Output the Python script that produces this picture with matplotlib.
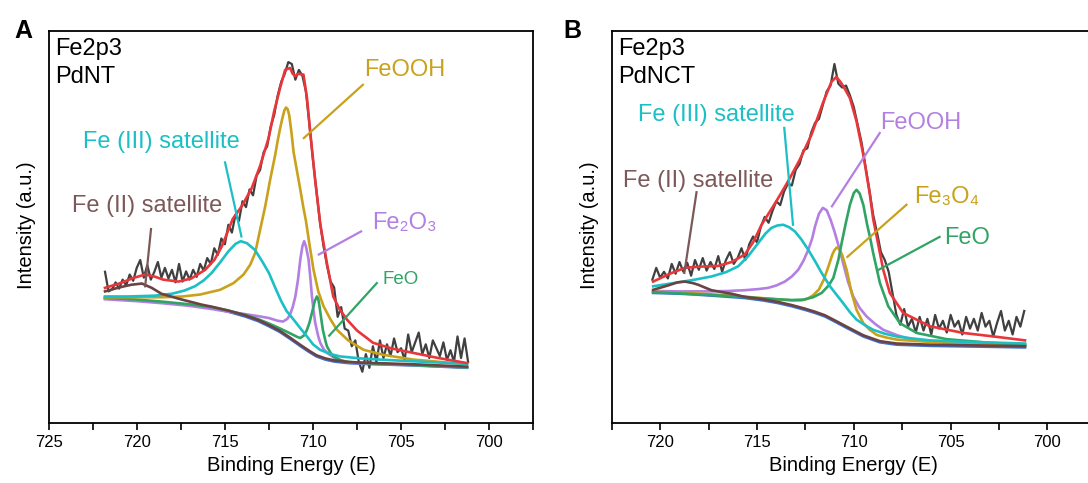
import numpy as np
import matplotlib
matplotlib.use('Agg')
import matplotlib.pyplot as plt
from matplotlib.ticker import MultipleLocator

plt.rcParams['font.family'] = ['Liberation Sans', 'DejaVu Sans']

# ---------------- data, panel A (PdNT) ----------------
a_raw = [38.5, 33.5, 34.0, 35.8, 34.2, 36.5, 35.0, 37.8, 36.2, 39.5,
         41.5, 37.0, 40.2, 36.5, 38.5, 41.0, 37.0, 39.5, 36.8, 39.0,
         35.8, 40.5, 36.0, 38.6, 36.5, 39.0, 37.2, 40.5, 38.8, 42.0,
         40.5, 44.5, 42.8, 47.0, 45.5, 50.5, 48.5, 53.0, 51.5, 56.5,
         55.0, 59.5, 58.0, 63.0, 64.5, 69.0, 70.5, 75.5, 78.5, 83.5,
         87.0, 89.0, 92.0, 91.5, 87.5, 90.0, 88.5, 84.5, 76.0, 67.0,
         59.0, 51.0, 45.0, 40.0, 36.0, 34.5, 27.0, 29.5, 24.0, 23.5,
         19.5, 21.0, 15.5, 13.0, 17.5, 14.0, 19.5, 15.5, 21.0, 16.5,
         20.0, 17.0, 21.5, 18.0, 19.0, 16.0, 22.5, 18.0, 20.5, 23.0,
         17.5, 20.0, 16.5, 21.0, 19.0, 17.0, 20.5, 16.0, 18.5, 15.5,
         22.0, 16.5, 21.5, 15.5]
a_raw_start, a_raw_stop = 721.8, 701.2

a_envelope = [(721.8, 34.4), (721.0, 35.5), (720.2, 36.9), (719.53, 37.8), (719.0, 37.3),
              (718.5, 36.5), (717.63, 36.0), (716.9, 36.8), (716.12, 39.0), (715.6, 41.5),
              (715.17, 45.0), (714.55, 52.0), (714.0, 55.5), (713.47, 59.9), (713.0, 65.5),
              (712.52, 72.6), (712.2, 79.5), (711.86, 85.5), (711.58, 90.0), (711.3, 90.5),
              (711.15, 89.0), (711.0, 88.4), (710.85, 89.0), (710.54, 88.8), (710.34, 82.8),
              (710.16, 74.3), (709.87, 61.6), (709.58, 50.5), (709.21, 40.7), (708.85, 32.2),
              (708.5, 29.0), (708.07, 26.3), (707.5, 23.5), (707.0, 21.8), (706.6, 20.4),
              (705.5, 18.9), (704.3, 17.8), (703.0, 16.6), (702.0, 15.8), (701.26, 15.2)]

a_background = [(721.8, 31.7), (720.0, 31.2), (718.6, 30.7), (717.0, 30.0), (715.75, 29.3),
                (714.8, 28.3), (713.85, 27.1), (713.1, 25.9), (712.5, 24.6), (711.9, 23.2),
                (711.3, 21.4), (710.7, 19.5), (710.2, 18.0), (709.8, 16.9), (709.3, 16.1),
                (708.8, 15.6), (708.0, 15.2), (707.1, 15.0), (704.3, 14.6), (701.26, 14.0)]

a_fe2_sat = [(721.8, 33.5), (721.0, 34.5), (720.3, 35.2), (719.7, 35.5), (719.15, 34.4),
             (718.6, 32.9), (717.6, 31.6), (716.3, 30.1), (715.75, 29.6), (714.8, 28.6),
             (713.85, 27.4), (713.1, 26.2), (712.5, 24.9), (711.9, 23.5), (711.3, 21.7),
             (710.7, 19.8), (710.2, 18.3), (709.8, 17.2), (709.3, 16.4), (708.8, 15.9),
             (708.0, 15.5), (707.1, 15.3), (704.3, 14.9), (701.26, 14.3)]

a_fe3_sat = [(721.8, 32.2), (720.5, 32.2), (719.0, 32.4), (718.0, 32.9), (717.3, 33.7),
             (716.7, 34.8), (716.2, 36.3), (715.75, 38.2), (715.25, 41.0), (714.8, 43.7),
             (714.4, 45.6), (714.1, 46.3), (713.75, 45.8), (713.3, 44.1), (712.9, 41.3),
             (712.5, 38.2), (712.1, 34.0), (711.8, 31.0), (711.5, 28.5), (711.1, 26.3),
             (710.7, 24.0), (710.34, 22.0), (710.0, 20.0), (709.6, 18.6), (709.0, 17.5),
             (708.45, 16.9), (707.3, 16.4), (706.2, 16.1), (704.0, 15.6), (701.26, 15.0)]

a_feooh = [(721.8, 32.0), (718.6, 32.0), (717.4, 32.2), (716.4, 32.7), (715.27, 33.9),
           (714.51, 35.6), (713.94, 37.8), (713.56, 40.3), (713.28, 43.3), (713.0, 49.2),
           (712.71, 55.2), (712.43, 62.0), (712.14, 68.4), (712.0, 72.0), (711.86, 75.2),
           (711.72, 78.0), (711.62, 79.7), (711.53, 80.4), (711.44, 80.0), (711.35, 78.5),
           (711.22, 74.0), (711.1, 69.0), (710.9, 64.0), (710.72, 59.5), (710.55, 55.0),
           (710.4, 51.5), (710.2, 45.5), (709.97, 39.0), (709.7, 33.5), (709.4, 29.7),
           (709.0, 26.3), (708.64, 23.7), (708.0, 21.0), (707.13, 18.6), (706.0, 17.3),
           (704.3, 16.1), (702.5, 15.4), (701.26, 15.0)]

a_fe2o3 = [(721.8, 31.5), (720.0, 31.0), (718.6, 30.5), (717.0, 29.8), (715.75, 29.0),
           (714.8, 28.3), (713.85, 27.7), (713.0, 27.1), (712.5, 26.7), (712.0, 26.0),
           (711.7, 25.8), (711.45, 26.5), (711.3, 27.6), (711.15, 29.5), (711.0, 32.2),
           (710.85, 36.5), (710.72, 41.6), (710.6, 45.0), (710.5, 46.3), (710.4, 45.0),
           (710.25, 41.6), (710.15, 37.0), (710.06, 32.2), (709.95, 28.0), (709.87, 25.4),
           (709.7, 22.0), (709.58, 20.3), (709.4, 18.8), (709.2, 17.8), (708.64, 16.1),
           (708.0, 15.4), (707.1, 15.1), (704.3, 14.7), (701.26, 14.1)]

a_feo = [(721.8, 31.9), (720.0, 31.4), (718.6, 30.9), (717.0, 30.2), (715.75, 29.5),
         (714.8, 28.6), (713.85, 27.5), (713.1, 26.4), (712.5, 25.3), (711.9, 24.1),
         (711.3, 22.8), (710.9, 21.9), (710.72, 21.6), (710.5, 22.3), (710.34, 23.7),
         (710.2, 25.5), (710.06, 28.0), (709.9, 31.0), (709.78, 32.2), (709.7, 31.6),
         (709.63, 29.7), (709.53, 26.5), (709.44, 23.7), (709.3, 21.0), (709.21, 19.5),
         (709.0, 17.8), (708.83, 16.9), (708.4, 15.9), (708.0, 15.5), (707.1, 15.2),
         (704.3, 14.7), (701.26, 14.1)]

# ---------------- data, panel B (PdNCT) ----------------
b_raw = [36.5, 39.5, 37.0, 38.5, 36.8, 40.5, 38.0, 41.0, 38.5, 40.8,
         37.5, 41.5, 39.0, 42.0, 38.8, 41.0, 39.2, 42.5, 38.5, 41.5,
         43.5, 40.5, 42.0, 44.5, 41.5, 45.5, 47.5, 46.0, 50.0, 52.5,
         51.0, 54.0, 56.5, 55.5, 59.0, 61.0, 60.5, 64.5, 66.0, 69.5,
         70.0, 74.0, 76.5, 77.5, 81.0, 84.5, 86.0, 91.5, 86.5, 85.5,
         86.0, 83.5, 80.5, 76.0, 71.5, 65.5, 59.5, 53.0, 48.5, 43.5,
         41.5, 38.5, 33.0, 27.5, 25.0, 29.0, 24.5, 26.5, 23.0, 27.0,
         23.5, 26.5, 22.5, 27.5, 24.0, 26.0, 23.0, 27.5, 24.5, 26.0,
         22.5, 27.0, 24.0, 26.5, 23.5, 28.0, 24.5, 26.0, 22.0, 25.5,
         28.5, 23.5, 26.0, 22.5, 27.0, 24.5, 28.5]
b_raw_start, b_raw_stop = 720.4, 701.2

b_envelope = [(720.36, 36.0), (719.5, 38.0), (718.72, 39.5), (718.0, 39.8), (717.0, 40.0),
              (716.3, 41.0), (715.63, 42.9), (715.2, 46.0), (714.76, 50.5), (714.0, 56.5),
              (713.39, 61.6), (712.8, 67.0), (712.18, 73.5), (711.6, 81.5), (711.15, 87.0),
              (710.9, 88.2), (710.7, 87.0), (710.5, 85.5), (710.2, 82.8), (709.86, 76.9),
              (709.51, 68.4), (709.17, 58.2), (709.0, 52.0), (708.74, 45.5), (708.48, 39.0),
              (708.14, 33.1), (707.45, 28.0), (706.07, 24.6), (704.35, 22.9), (702.62, 21.9),
              (701.16, 21.0)]

b_background = [(720.36, 33.1), (719.0, 32.9), (718.21, 32.7), (717.0, 32.3), (715.63, 31.8),
                (714.7, 31.2), (713.9, 30.5), (713.2, 29.7), (712.53, 28.8), (712.0, 28.0),
                (711.49, 27.1), (710.98, 25.8), (710.37, 24.2), (709.9, 23.0), (709.51, 22.0),
                (709.0, 21.1), (708.65, 20.5), (707.79, 19.9), (706.07, 19.6), (703.5, 19.4),
                (701.16, 19.2)]

b_fe2_sat = [(720.36, 33.9), (719.6, 35.0), (719.1, 35.8), (718.72, 36.0), (718.3, 35.6),
             (718.04, 35.2), (717.7, 34.5), (717.35, 33.8), (716.8, 33.3), (716.31, 32.9),
             (715.63, 32.1), (714.7, 31.5), (713.9, 30.8), (713.2, 30.0), (712.53, 29.1),
             (712.0, 28.3), (711.49, 27.4), (710.98, 26.1), (710.37, 24.5), (709.9, 23.3),
             (709.51, 22.3), (709.0, 21.4), (708.65, 20.8), (707.79, 20.2), (706.07, 19.9),
             (703.5, 19.7), (701.16, 19.5)]

b_fe3_sat = [(720.36, 34.8), (719.07, 35.8), (718.2, 36.5), (717.35, 37.3), (716.6, 38.4),
             (715.97, 39.9), (715.45, 42.5), (714.94, 45.8), (714.55, 48.3), (714.25, 49.7),
             (713.95, 50.3), (713.65, 50.5), (713.35, 49.9), (713.04, 48.8), (712.7, 46.7),
             (712.35, 44.1), (712.0, 41.2), (711.66, 38.2), (711.23, 34.8), (710.9, 32.7),
             (710.55, 30.5), (710.2, 28.2), (709.86, 26.3), (709.4, 24.8), (709.0, 23.7),
             (708.4, 22.7), (707.79, 22.0), (707.0, 21.5), (706.07, 21.0), (704.0, 20.6),
             (701.16, 20.2)]

b_feooh = [(720.36, 33.6), (719.0, 33.5), (717.35, 33.5), (716.5, 33.6), (715.63, 33.8),
           (714.9, 34.1), (714.42, 34.4), (714.0, 35.0), (713.56, 36.0), (713.2, 37.3),
           (712.87, 39.0), (712.6, 41.3), (712.35, 44.1), (712.15, 47.0), (712.0, 50.1),
           (711.8, 53.3), (711.6, 54.8), (711.4, 54.2), (711.2, 51.8), (711.0, 48.8),
           (710.75, 44.5), (710.55, 40.7), (710.3, 36.0), (710.03, 32.2), (709.7, 29.3),
           (709.34, 27.1), (708.9, 25.2), (708.48, 23.7), (707.7, 22.2), (706.93, 21.2),
           (705.0, 20.5), (701.16, 19.9)]

b_fe3o4 = [(720.36, 33.4), (719.0, 33.2), (717.5, 32.8), (716.0, 32.3), (715.0, 31.9),
           (714.0, 31.5), (713.2, 31.2), (712.7, 31.2), (712.4, 31.6), (712.1, 32.5),
           (711.8, 34.0), (711.55, 36.5), (711.3, 40.0), (711.1, 43.0), (711.0, 44.0),
           (710.88, 44.7), (710.75, 44.3), (710.6, 42.8), (710.37, 39.0), (710.11, 33.1),
           (709.86, 28.8), (709.51, 25.4), (709.2, 23.8), (708.82, 22.4), (708.3, 21.7),
           (707.79, 21.2), (706.07, 20.6), (704.0, 20.1), (701.16, 19.6)]

b_feo = [(720.36, 33.3), (719.0, 33.0), (717.5, 32.6), (716.0, 32.2), (715.0, 31.8),
         (714.0, 31.5), (713.2, 31.3), (712.6, 31.4), (712.1, 32.0), (711.66, 33.1),
         (711.3, 35.0), (711.06, 36.9), (710.8, 41.5), (710.6, 46.5), (710.41, 51.0),
         (710.2, 55.6), (710.0, 58.6), (709.86, 59.4), (709.7, 58.5), (709.51, 55.6),
         (709.31, 50.5), (709.15, 47.0), (709.0, 43.3), (708.65, 35.6), (708.22, 29.7),
         (707.62, 25.4), (706.76, 22.9), (705.2, 21.3), (703.0, 20.4), (701.16, 19.9)]

# colours
c_raw = '#404040'
c_env = '#e8363a'
c_bg = '#3f6fd0'
c_fe2 = '#6b4343'
c_fe2_txt = '#7d5858'
c_fe3 = '#1cbfc6'
c_gold = '#c9a11b'
c_purple = '#b47fe2'
c_green = '#30a465'


def xy(points):
    p = np.array(points)
    return p[:, 0], p[:, 1]


def draw_panel(ax, raw, raw_start, raw_stop, curves, labels, tag):
    e_raw = np.linspace(raw_start, raw_stop, len(raw))
    ax.plot(e_raw, raw, color=c_raw, lw=1.6, zorder=2)
    for pts, col in curves:
        x, y = xy(pts)
        ax.plot(x, y, color=col, lw=1.9, zorder=3, solid_joinstyle='round')
    for txt, col, tx, ty, size, p0, p1 in labels:
        ax.text(tx, ty, txt, color=col, fontsize=size, ha='left', va='center', zorder=5)
        ax.plot([p0[0], p1[0]], [p0[1], p1[1]], color=col, lw=1.6, zorder=4)
    ax.text(0.013, 0.939, 'Fe2p3', transform=ax.transAxes, fontsize=17, va='baseline')
    ax.text(0.013, 0.866, tag, transform=ax.transAxes, fontsize=17, va='baseline')

    ax.set_ylim(0, 100)
    ax.set_yticks([])
    ax.xaxis.set_major_locator(MultipleLocator(5))
    ax.xaxis.set_minor_locator(MultipleLocator(2.5))
    ax.tick_params(axis='x', which='major', direction='out', length=5, width=1.2,
                   labelsize=12, pad=3.5, top=False)
    ax.tick_params(axis='x', which='minor', direction='out', length=5, width=1.2, top=False)
    for s in ax.spines.values():
        s.set_linewidth(1.3)
    ax.set_xlabel('Binding Energy (E)', fontsize=14.5, labelpad=5)
    ax.set_ylabel('Intensity (a.u.)', fontsize=14.5)
    ax.yaxis.set_label_coords(-0.026, 0.505)


fig = plt.figure(figsize=(10.88, 4.83), dpi=100)
ax_a = fig.add_axes([48.6 / 1088, 60.3 / 483, 484.7 / 1088, 392 / 483])
ax_b = fig.add_axes([611.7 / 1088, 60.3 / 483, 484.2 / 1088, 392 / 483])

curves_a = [(a_background, c_bg), (a_fe2o3, c_purple), (a_feo, c_green), (a_feooh, c_gold),
            (a_fe3_sat, c_fe3), (a_fe2_sat, c_fe2), (a_envelope, c_env)]
labels_a = [
    ('FeOOH', c_gold, 707.11, 90.1, 17, (707.17, 86.2), (710.52, 72.6)),
    ('Fe (III) satellite', c_fe3, 723.03, 71.6, 17, (714.99, 66.4), (714.06, 47.5)),
    ('Fe (II) satellite', c_fe2_txt, 723.66, 55.2, 17, (719.19, 49.4), (719.52, 34.8)),
    ('Fe\u2082O\u2083', c_purple, 706.67, 50.9, 17, (707.27, 48.8), (709.67, 42.9)),
    ('FeO', c_green, 706.08, 36.6, 13.5, (706.38, 35.6), (709.08, 22.2)),
]
draw_panel(ax_a, a_raw, a_raw_start, a_raw_stop, curves_a, labels_a, 'PdNT')
ax_a.set_xlim(725, 697.5)

curves_b = [(b_background, c_bg), (b_feooh, c_purple), (b_fe3o4, c_gold), (b_feo, c_green),
            (b_fe3_sat, c_fe3), (b_fe2_sat, c_fe2), (b_envelope, c_env)]
labels_b = [
    ('Fe (III) satellite', c_fe3, 721.13, 78.4, 17, (713.59, 75.2), (713.14, 50.5)),
    ('Fe (II) satellite', c_fe2_txt, 721.92, 61.6, 17, (718.12, 58.8), (718.75, 38.2)),
    ('FeOOH', c_purple, 708.66, 76.4, 17, (708.66, 73.9), (711.13, 55.2)),
    ('Fe\u2083O\u2084', c_gold, 706.87, 57.6, 17, (707.28, 55.6), (710.33, 42.3)),
    ('FeO', c_green, 705.36, 47.1, 17, (705.57, 47.4), (708.76, 38.9)),
]
draw_panel(ax_b, b_raw, b_raw_start, b_raw_stop, curves_b, labels_b, 'PdNCT')
ax_b.set_xlim(722.5, 697.5)

fig.text(14 / 1088, 1 - 38.5 / 483, 'A', fontsize=18, fontweight='bold', va='baseline')
fig.text(563 / 1088, 1 - 38.5 / 483, 'B', fontsize=18, fontweight='bold', va='baseline')

fig.savefig('out.png', dpi=100)
